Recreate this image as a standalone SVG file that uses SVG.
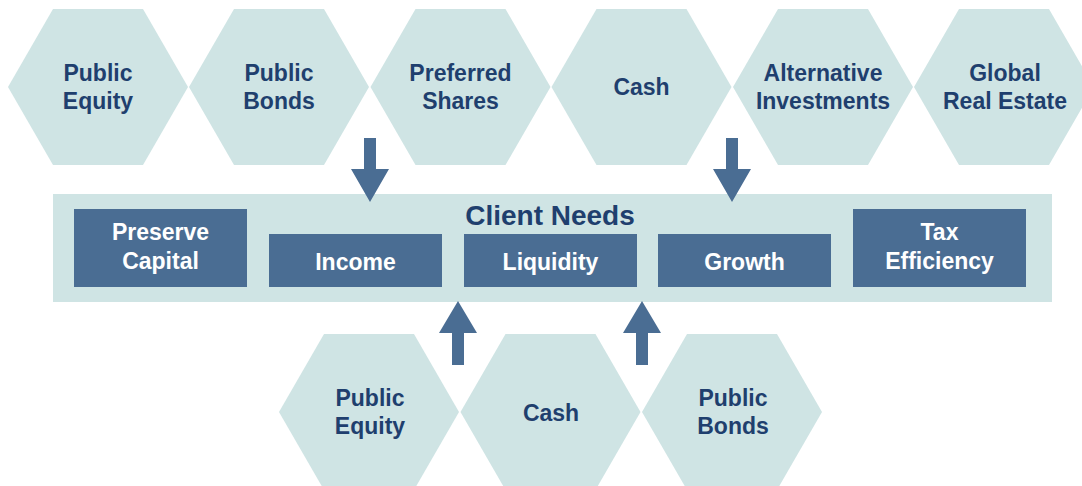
<svg xmlns="http://www.w3.org/2000/svg" xmlns:xlink="http://www.w3.org/1999/xlink" width="1082" height="486" viewBox="0 0 1082 486">
<style>
.hex{fill:#cfe4e4}
.ht{font-family:"Liberation Sans",Arial,sans-serif;font-weight:bold;font-size:23px;fill:#1f3f6e;text-anchor:middle}
.bx{fill:#4a6d93}
.bt{font-family:"Liberation Sans",Arial,sans-serif;font-weight:bold;font-size:23px;fill:#ffffff;text-anchor:middle}
.arrow{fill:#4a6d93}
</style>
<defs>
<polygon id="hexshape" points="-90,0 -45,-78 45,-78 90,0 45,78 -45,78"/>
</defs>
<rect x="0" y="0" width="1082" height="486" fill="#ffffff"/>
<g id="top-public-equity"><use href="#hexshape" class="hex" x="98" y="87"/><text class="ht" x="98" y="81">Public</text><text class="ht" x="98" y="109">Equity</text></g>
<g id="top-public-bonds"><use href="#hexshape" class="hex" x="279" y="87"/><text class="ht" x="279" y="81">Public</text><text class="ht" x="279" y="109">Bonds</text></g>
<g id="top-preferred-shares"><use href="#hexshape" class="hex" x="460.5" y="87"/><text class="ht" x="460.5" y="81">Preferred</text><text class="ht" x="460.5" y="109">Shares</text></g>
<g id="top-cash"><use href="#hexshape" class="hex" x="641.5" y="87"/><text class="ht" x="641.5" y="95">Cash</text></g>
<g id="top-alternative-investments"><use href="#hexshape" class="hex" x="823" y="87"/><text class="ht" x="823" y="81">Alternative</text><text class="ht" x="823" y="109">Investments</text></g>
<g id="top-global-real-estate"><use href="#hexshape" class="hex" x="1004" y="87"/><text class="ht" x="1005" y="81">Global</text><text class="ht" x="1005" y="109">Real Estate</text></g>
<g id="client-needs"><rect x="53" y="194" width="999" height="108" class="hex"/><text x="550" y="225" style="font-family:'Liberation Sans',Arial,sans-serif;font-weight:bold;font-size:28px;fill:#1f3f6e;text-anchor:middle">Client Needs</text></g>
<g id="need-preserve-capital"><rect class="bx" x="74" y="209" width="173" height="78"/><text class="bt" x="160.5" y="240">Preserve</text><text class="bt" x="160.5" y="269">Capital</text></g>
<g id="need-income"><rect class="bx" x="269" y="234" width="173" height="53"/><text class="bt" x="355.5" y="270">Income</text></g>
<g id="need-liquidity"><rect class="bx" x="464" y="234" width="173" height="53"/><text class="bt" x="550.5" y="270">Liquidity</text></g>
<g id="need-growth"><rect class="bx" x="658" y="234" width="173" height="53"/><text class="bt" x="744.5" y="270">Growth</text></g>
<g id="need-tax-efficiency"><rect class="bx" x="853" y="209" width="173" height="78"/><text class="bt" x="939.5" y="240">Tax</text><text class="bt" x="939.5" y="269">Efficiency</text></g>
<g id="bottom-public-equity"><use href="#hexshape" class="hex" x="369" y="412"/><text class="ht" x="370" y="406">Public</text><text class="ht" x="370" y="434">Equity</text></g>
<g id="bottom-cash"><use href="#hexshape" class="hex" x="550.5" y="412"/><text class="ht" x="551" y="421">Cash</text></g>
<g id="bottom-public-bonds"><use href="#hexshape" class="hex" x="732" y="412"/><text class="ht" x="733" y="406">Public</text><text class="ht" x="733" y="434">Bonds</text></g>
<g id="connectors">
<polygon class="arrow" points="364,138 376,138 376,169 389,169 370,202 351,169 364,169"/>
<polygon class="arrow" points="726,138 738,138 738,169 751,169 732,202 713,169 726,169"/>
<polygon class="arrow" points="452,365 464,365 464,333 477,333 458,301 439,333 452,333"/>
<polygon class="arrow" points="636,365 648,365 648,333 661,333 642,301 623,333 636,333"/>
</g>
</svg>
